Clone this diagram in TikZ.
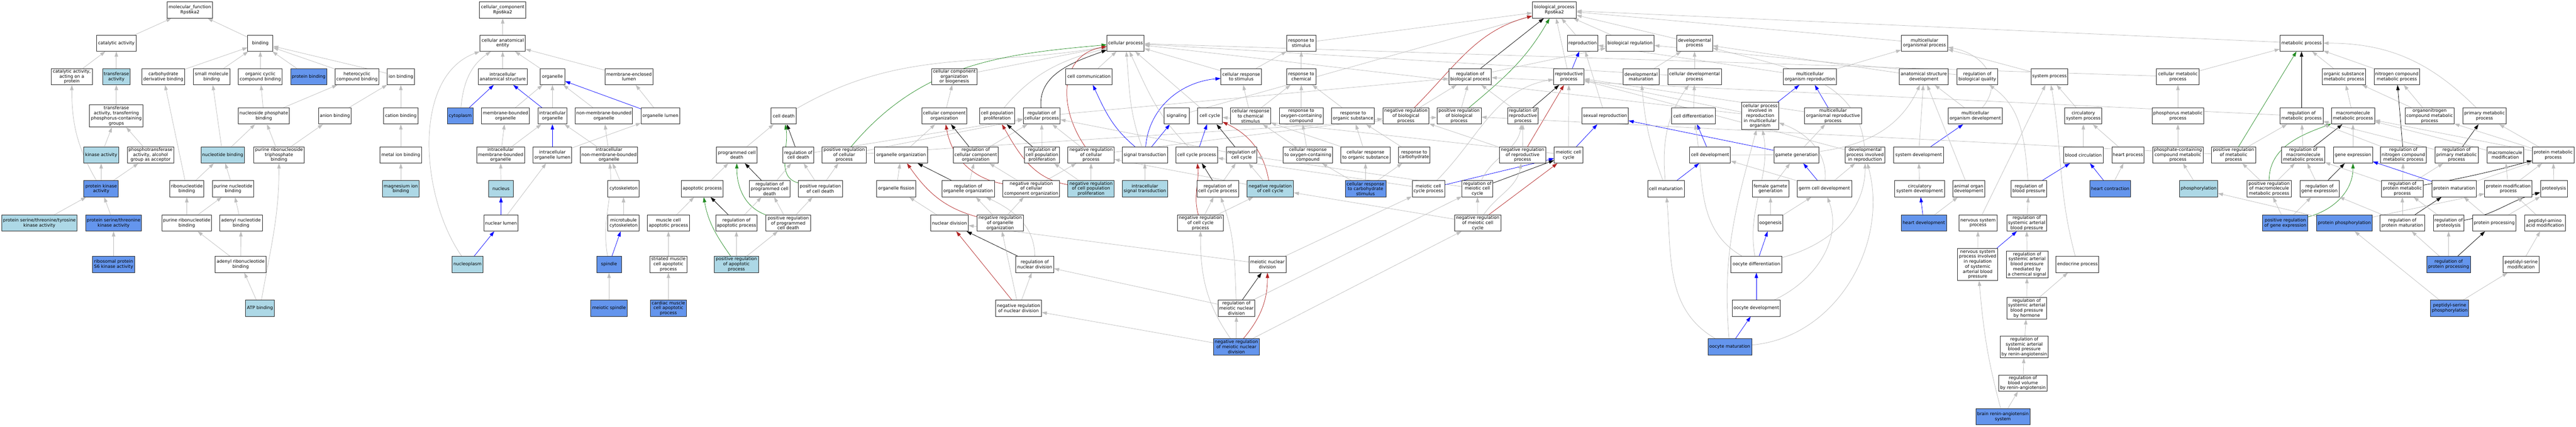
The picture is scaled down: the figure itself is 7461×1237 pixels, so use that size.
\documentclass[tikz,border=0pt]{standalone}
\usepackage{fontspec}
\setmainfont{DejaVu Sans}
\usetikzlibrary{arrows.meta}
\definecolor{lblue}{HTML}{ADD8E6}
\definecolor{cblue}{HTML}{6495ED}
\definecolor{egray}{HTML}{BEBEBE}
\definecolor{fgreen}{HTML}{228B22}
\definecolor{fred}{HTML}{B22222}
\pgfdeclarelayer{bgfill}
\pgfdeclarelayer{edges}
\pgfsetlayers{bgfill,edges,main}
\newcommand\gofont{\fontsize{12.8}{14.5}\selectfont}
\tikzset{
  gobox/.style={draw=black!85, line width=1.3pt, fill=white, inner sep=0pt, align=center, font=\gofont, minimum height=47pt},
  lb/.style={fill=lblue}, cb/.style={fill=cblue},
  edgebase/.style={line width=1.1pt, -{Triangle[length=15pt,width=10pt]}},
  gedge/.style={edgebase, draw=egray},
  bedge/.style={edgebase, draw=blue},
  redge/.style={edgebase, draw=fred},
  kedge/.style={edgebase, draw=black},
  nedge/.style={edgebase, draw=fgreen}
}
\newcommand\Gn[6]{\node[gobox,#5,minimum width=#4pt] (#1) at (#2,#3) {#6};}
\newcommand\Gnh[7]{\node[gobox,#6,minimum width=#4pt,minimum height=#5pt] (#1) at (#2,#3) {#7};}
\newcommand\eGray[2]{\draw[gedge] (#1) -- (#2);}
\newcommand\eBlue[2]{\draw[bedge] (#1) -- (#2);}
\newcommand\eRed[2]{\draw[redge] (#1) -- (#2);}
\newcommand\eBlack[2]{\draw[kedge] (#1) -- (#2);}
\newcommand\eGreen[2]{\draw[nedge] (#1) -- (#2);}
\newcommand\cGray[4]{\draw[gedge] (#1) to[out=#3,in=#4] (#2);}
\newcommand\cBlue[4]{\draw[bedge] (#1) to[out=#3,in=#4] (#2);}
\newcommand\cRed[4]{\draw[redge] (#1) to[out=#3,in=#4] (#2);}
\newcommand\cBlack[4]{\draw[kedge] (#1) to[out=#3,in=#4] (#2);}
\newcommand\cGreen[4]{\draw[nedge] (#1) to[out=#3,in=#4] (#2);}
\begin{document}
\begin{tikzpicture}[x=1pt,y=-1pt]
\begin{pgfonlayer}{bgfill}
\fill[white] (0,0) rectangle (7461,1237);
\end{pgfonlayer}
\useasboundingbox (0,0) rectangle (7461,1237);
% ---------------- molecular function ----------------
\Gn{mf}{550}{29}{131}{}{molecular\_function\\Rps6ka2}
\Gn{catact}{337}{125}{115}{}{catalytic activity}
\Gn{catprot}{208}{222}{119}{}{catalytic activity,\\acting on a\\protein}
\Gn{transf}{337}{222}{80}{lb}{transferase\\activity}
\Gn{carbo}{473}{222}{124}{}{carbohydrate\\derivative binding}
\Gn{smallmol}{613}{222}{107}{}{small molecule\\binding}
\Gnh{transphos}{337}{336}{155}{64}{}{transferase\\activity, transferring\\phosphorus-containing\\groups}
\Gn{kinase}{293}{449}{102}{lb}{kinase activity}
\Gn{phosalc}{436}{449}{134}{}{phosphotransferase\\activity, alcohol\\group as acceptor}
\Gn{nucbind}{645}{449}{126}{lb}{nucleotide binding}
\Gn{pkinase}{293}{547}{100}{cb}{protein kinase\\activity}
\Gn{ribonuc}{541}{547}{99}{}{ribonucleotide\\binding}
\Gn{purnuc}{675}{547}{119}{}{purine nucleotide\\binding}
\Gn{pstyk}{114}{646}{219}{lb}{protein serine/threonine/tyrosine\\kinase activity}
\Gn{pstk}{329}{646}{162}{cb}{protein serine/threonine\\kinase activity}
\Gn{purribo}{541}{646}{144}{}{purine ribonucleotide\\binding}
\Gn{adenyl}{698}{646}{123}{}{adenyl nucleotide\\binding}
\Gn{rps6}{329}{766}{123}{cb}{ribosomal protein\\S6 kinase activity}
\Gn{adenribo}{697}{766}{147}{}{adenyl ribonucleotide\\binding}
\Gn{atp}{753}{893}{84}{lb}{ATP binding}
\Gn{binding}{754}{125}{73}{}{binding}
\Gn{orgcyc}{754}{222}{127}{}{organic cyclic\\compound binding}
\Gn{protbind}{894}{222}{105}{cb}{protein binding}
\Gn{hetcyc}{1034}{222}{127}{}{heterocyclic\\compound binding}
\Gn{ionbind}{1161}{222}{78}{}{ion binding}
\Gn{nucphos}{764}{336}{148}{}{nucleoside phosphate\\binding}
\Gn{anion}{970}{336}{95}{}{anion binding}
\Gn{cation}{1161}{336}{99}{}{cation binding}
\Gn{purtri}{808}{449}{146}{}{purine ribonucleoside\\triphosphate\\binding}
\Gn{metal}{1161}{449}{120}{}{metal ion binding}
\Gn{mg}{1161}{547}{107}{lb}{magnesium ion\\binding}
% ---------------- cellular component ----------------
\Gn{cc}{1456}{29}{134}{}{cellular\_component\\Rps6ka2}
\Gn{cae}{1456}{125}{131}{}{cellular anatomical\\entity}
\Gn{ias}{1456}{222}{142}{}{intracellular\\anatomical structure}
\Gn{organelle}{1600}{222}{72}{}{organelle}
\Gn{mel}{1822}{222}{139}{}{membrane-enclosed\\lumen}
\Gn{cytoplasm}{1333}{336}{75}{cb}{cytoplasm}
\Gn{mbo}{1464}{336}{139}{}{membrane-bounded\\organelle}
\Gn{io}{1600}{336}{84}{}{intracellular\\organelle}
\Gn{nmbo}{1749}{336}{166}{}{non-membrane-bounded\\organelle}
\Gn{ol}{1913}{336}{112}{}{organelle lumen}
\Gn{imbo}{1450}{449}{139}{}{intracellular\\membrane-bounded\\organelle}
\Gn{iol}{1600}{449}{112}{}{intracellular\\organelle lumen}
\Gn{inmbo}{1764}{449}{166}{}{intracellular\\non-membrane-bounded\\organelle}
\Gn{nucleus}{1451}{547}{72}{lb}{nucleus}
\Gn{cytoskel}{1806}{547}{91}{}{cytoskeleton}
\Gn{nuclumen}{1451}{646}{99}{}{nuclear lumen}
\Gn{mtcyto}{1806}{646}{91}{}{microtubule\\cytoskeleton}
\Gn{nucleoplasm}{1354}{766}{89}{lb}{nucleoplasm}
\Gn{spindle}{1764}{766}{72}{cb}{spindle}
\Gn{meiospin}{1764}{893}{106}{cb}{meiotic spindle}
% ---------------- biological process ----------------
\Gn{celldeath}{2270}{336}{73}{}{cell death}
\Gn{pcd}{2134}{449}{118}{}{programmed cell\\death}
\Gn{regcd}{2312}{449}{89}{}{regulation of\\cell death}
\Gn{posregcp}{2445}{449}{128}{}{positive regulation\\of cellular\\process}
\Gn{apop}{2034}{547}{121}{}{apoptotic process}
\Gn{regpcd}{2229}{547}{117}{}{regulation of\\programmed cell\\death}
\Gn{posregcd}{2376}{547}{128}{}{positive regulation\\of cell death}
\Gn{mcap}{1936}{646}{122}{}{muscle cell\\apoptotic process}
\Gn{regap}{2133}{646}{120}{}{regulation of\\apoptotic process}
\Gn{posregpcd}{2283}{646}{129}{}{positive regulation\\of programmed\\cell death}
\Gn{smcap}{1936}{766}{106}{}{striated muscle\\cell apoptotic\\process}
\Gn{posregap}{2133}{766}{128}{lb}{positive regulation\\of apoptotic\\process}
\Gn{cmcap}{1936}{893}{104}{cb}{cardiac muscle\\cell apoptotic\\process}
\Gn{ccob}{2764}{222}{131}{}{cellular component\\organization\\or biogenesis}
\Gn{cco}{2735}{336}{131}{}{cellular component\\organization}
\Gn{cpp}{2888}{336}{102}{}{cell population\\proliferation}
\Gn{regcp}{3017}{336}{107}{}{regulation of\\cellular process}
\Gn{cellcomm}{3154}{222}{135}{}{cell communication}
\Gn{orgorg}{2610}{449}{153}{}{organelle organization}
\Gn{regcco}{2826}{449}{131}{}{regulation of\\cellular component\\organization}
\Gn{regcpp}{3018}{449}{101}{}{regulation of\\cell population\\proliferation}
\Gn{negregcp}{3160}{449}{134}{}{negative regulation\\of cellular\\process}
\Gn{orgfis}{2596}{547}{114}{}{organelle fission}
\Gn{regorg}{2804}{547}{152}{}{regulation of\\organelle organization}
\Gn{negregcco}{2987}{547}{164}{}{negative regulation\\of cellular\\component organization}
\Gn{negregcpp}{3160}{547}{134}{lb}{negative regulation\\of cell population\\proliferation}
\Gn{nucdiv}{2750}{646}{109}{}{nuclear division}
\Gn{negregorg}{2897}{646}{133}{}{negative regulation\\of organelle\\organization}
\Gn{regnucdiv}{2997}{766}{110}{}{regulation of\\nuclear division}
\Gn{negregnucdiv}{2950}{893}{133}{}{negative regulation\\of nuclear division}
\Gn{cellproc}{3260}{125}{108}{}{cellular process}
\Gn{signaling}{3408}{336}{72}{}{signaling}
\Gn{cellcycle}{3504}{336}{72}{}{cell cycle}
\Gn{crs}{3595}{222}{118}{}{cellular response\\to stimulus}
\Gn{crcs}{3622}{336}{117}{}{cellular response\\to chemical\\stimulus}
\Gn{rocc}{3769}{336}{126}{}{response to\\oxygen-containing\\compound}
\Gn{sigtrans}{3316}{449}{131}{}{signal transduction}
\Gn{ccp}{3466}{449}{121}{}{cell cycle process}
\Gn{regcc}{3596}{449}{88}{}{regulation of\\cell cycle}
\Gn{crocc}{3788}{449}{144}{}{cellular response\\to oxygen-containing\\compound}
\Gn{ist}{3316}{547}{131}{lb}{intracellular\\signal transduction}
\Gn{regccp}{3527}{547}{121}{}{regulation of\\cell cycle process}
\Gn{negregcc}{3679}{547}{135}{lb}{negative regulation\\of cell cycle}
\Gn{negregccp}{3477}{646}{133}{}{negative regulation\\of cell cycle\\process}
\Gn{mnd}{3671}{766}{107}{}{meiotic nuclear\\division}
\Gn{regmnd}{3581}{893}{107}{}{regulation of\\meiotic nuclear\\division}
\Gn{negregmnd}{3581}{1005}{133}{cb}{negative regulation\\of meiotic nuclear\\division}
\Gn{rts}{3769}{125}{84}{}{response to\\stimulus}
\Gn{rtc}{3769}{222}{84}{}{response to\\chemical}
\Gn{ros}{3919}{336}{124}{}{response to\\organic substance}
\Gn{negregbp}{4072}{336}{134}{}{negative regulation\\of biological\\process}
\Gn{posregbp}{4226}{336}{128}{}{positive regulation\\of biological\\process}
\Gn{regbp}{4258}{222}{123}{}{regulation of\\biological process}
\Gn{cros}{3955}{449}{142}{}{cellular response\\to organic substance}
\Gn{rcarb}{4096}{449}{92}{}{response to\\carbohydrate}
\Gn{crcarb}{3955}{547}{118}{cb}{cellular response\\to carbohydrate\\stimulus}
\Gn{mccp}{4137}{547}{94}{}{meiotic cell\\cycle process}
\Gn{regmcc}{4279}{547}{89}{}{regulation of\\meiotic cell\\cycle}
\Gn{negregmcc}{4280}{646}{134}{}{negative regulation\\of meiotic cell\\cycle}
\Gn{bp}{4502}{29}{127}{}{biological\_process\\Rps6ka2}
\Gn{repro}{4584}{125}{88}{}{reproduction}
\Gn{bioreg}{4721}{125}{139}{}{biological regulation}
\Gn{devproc}{4908}{125}{104}{}{developmental\\process}
\Gn{rp}{4544}{222}{88}{}{reproductive\\process}
\Gn{devmat}{4753}{222}{104}{}{developmental\\maturation}
\Gn{cdp}{4908}{222}{155}{}{cellular developmental\\process}
\Gn{regrp}{4411}{336}{89}{}{regulation of\\reproductive\\process}
\Gn{sexrep}{4649}{336}{134}{}{sexual reproduction}
\Gn{celldiff}{4905}{336}{126}{}{cell differentiation}
\Gn{negregrp}{4410}{449}{134}{}{negative regulation\\of reproductive\\process}
\Gn{mcc}{4543}{449}{83}{}{meiotic cell\\cycle}
\Gn{celldev}{4953}{449}{118}{}{cell development}
\Gn{cellmat}{4825}{547}{106}{}{cell maturation}
\Gn{oomat}{5010}{1005}{127}{cb}{oocyte maturation}
\Gn{mop}{5574}{125}{134}{}{multicellular\\organismal process}
\Gn{mor}{5242}{222}{153}{}{multicellular\\organism reproduction}
\Gn{asd}{5572}{222}{142}{}{anatomical structure\\development}
\Gnh{cpirmo}{5098}{336}{107}{79}{}{cellular process\\involved in\\reproduction\\in multicellular\\organism}
\Gn{morp}{5309}{336}{166}{}{multicellular\\organismal reproductive\\process}
\Gn{gamgen}{5203}{449}{131}{}{gamete generation}
\Gn{dpir}{5402}{449}{115}{}{developmental\\process involved\\in reproduction}
\Gn{sysdev}{5557}{449}{144}{}{system development}
\Gn{femgam}{5128}{547}{106}{}{female gamete\\generation}
\Gn{gcd}{5284}{547}{158}{}{germ cell development}
\Gn{csd}{5560}{547}{144}{}{circulatory\\system development}
\Gn{oogenesis}{5128}{646}{72}{}{oogenesis}
\Gn{heartdev}{5572}{646}{131}{cb}{heart development}
\Gn{oodiff}{5087}{766}{147}{}{oocyte differentiation}
\Gn{oodev}{5087}{893}{139}{}{oocyte development}
\Gn{regbq}{5727}{222}{118}{}{regulation of\\biological quality}
\Gn{sysproc}{5936}{222}{107}{}{system process}
\Gn{mod}{5721}{336}{158}{}{multicellular\\organism development}
\Gn{circsp}{6034}{336}{107}{}{circulatory\\system process}
\Gn{bloodcirc}{6034}{449}{115}{}{blood circulation}
\Gn{heartproc}{6163}{449}{93}{}{heart process}
\Gn{aod}{5702}{547}{92}{}{animal organ\\development}
\Gn{regbpress}{5876}{547}{102}{}{regulation of\\blood pressure}
\Gn{heartcon}{6112}{547}{118}{cb}{heart contraction}
\Gn{nsp}{5729}{646}{111}{}{nervous system\\process}
\Gn{regsabp}{5870}{646}{115}{}{regulation of\\systemic arterial\\blood pressure}
\Gnh{nspir}{5728}{766}{116}{93}{}{nervous system\\process involved\\in regulation\\of systemic\\arterial blood\\pressure}
\Gnh{regsabpchem}{5871}{766}{121}{78}{}{regulation of\\systemic arterial\\blood pressure\\mediated by\\a chemical signal}
\Gn{endo}{6017}{766}{124}{}{endocrine process}
\Gnh{regsabphorm}{5870}{893}{116}{63}{}{regulation of\\systemic arterial\\blood pressure\\by hormone}
\Gnh{regsabpra}{5863}{1005}{139}{63}{}{regulation of\\systemic arterial\\blood pressure\\by renin-angiotensin}
\Gn{regbvra}{5859}{1110}{139}{}{regulation of\\blood volume\\by renin-angiotensin}
\Gn{brain}{5801}{1207}{157}{cb}{brain renin-angiotensin\\system}
\Gn{metab}{6666}{125}{125}{}{metabolic process}
\Gn{cmp}{6308}{222}{124}{}{cellular metabolic\\process}
\Gn{osmp}{6789}{222}{126}{}{organic substance\\metabolic process}
\Gn{phmp}{6308}{336}{150}{}{phosphorus metabolic\\process}
\Gn{regmp}{6666}{336}{125}{}{regulation of\\metabolic process}
\Gn{mmp}{6815}{336}{125}{}{macromolecule\\metabolic process}
\Gn{pcmp}{6308}{449}{147}{}{phosphate-containing\\compound metabolic\\process}
\Gn{posregmp}{6469}{449}{128}{}{positive regulation\\of metabolic\\process}
\Gn{regmmp}{6671}{449}{125}{}{regulation of\\macromolecule\\metabolic process}
\Gn{geneexp}{6815}{449}{113}{}{gene expression}
\Gn{phos}{6368}{547}{110}{lb}{phosphorylation}
\Gn{posregmmp}{6572}{547}{128}{}{positive regulation\\of macromolecule\\metabolic process}
\Gn{reggeneexp}{6718}{547}{113}{}{regulation of\\gene expression}
\Gn{posreggeneexp}{6619}{646}{131}{cb}{positive regulation\\of gene expression}
\Gn{protphos}{6790}{646}{161}{cb}{protein phosphorylation}
\Gn{ncmp}{6942}{222}{131}{}{nitrogen compound\\metabolic process}
\Gn{oncmp}{7037}{336}{142}{}{organonitrogen\\compound metabolic\\process}
\Gn{pmp}{7196}{336}{126}{}{primary metabolic\\process}
\Gn{regncmp}{6961}{449}{132}{}{regulation of\\nitrogen compound\\metabolic process}
\Gn{regpmp}{7115}{449}{126}{}{regulation of\\primary metabolic\\process}
\Gn{macmod}{7256}{449}{106}{}{macromolecule\\modification}
\Gn{protmp}{7395}{449}{121}{}{protein metabolic\\process}
\Gn{regprotmp}{6958}{547}{121}{}{regulation of\\protein metabolic\\process}
\Gn{protmat}{7108}{547}{128}{}{protein maturation}
\Gn{pmodproc}{7265}{547}{137}{}{protein modification\\process}
\Gn{proteolysis}{7397}{547}{78}{}{proteolysis}
\Gn{regprotmat}{6958}{646}{129}{}{regulation of\\protein maturation}
\Gn{regproteo}{7092}{646}{88}{}{regulation of\\proteolysis}
\Gn{protproc}{7224}{646}{126}{}{protein processing}
\Gn{pama}{7371}{646}{118}{}{peptidyl-amino\\acid modification}
\Gn{regprotproc}{7092}{766}{126}{cb}{regulation of\\protein processing}
\Gn{psm}{7302}{766}{105}{}{peptidyl-serine\\modification}
\Gn{psp}{7095}{893}{110}{cb}{peptidyl-serine\\phosphorylation}

\begin{pgfonlayer}{edges}
% MF
\eGray{catact}{mf} \eGray{binding}{mf} \eGray{catprot}{catact} \eGray{transf}{catact}
\eGray{transphos}{transf} \eGray{kinase}{transphos} \eGray{phosalc}{transphos}
\eGray{pkinase}{kinase} \eGray{pkinase}{phosalc} \cGray{pkinase}{catprot}{120}{-90}
\eGray{pstyk}{pkinase} \eGray{pstk}{pkinase} \eGray{rps6}{pstk}
\eGray{carbo}{binding} \eGray{smallmol}{binding} \eGray{orgcyc}{binding} \eGray{protbind}{binding}
\eGray{hetcyc}{binding} \eGray{ionbind}{binding}
\eGray{ribonuc}{carbo} \eGray{ribonuc}{nucbind} \eGray{nucbind}{smallmol} \eGray{nucbind}{nucphos}
\eGray{nucphos}{orgcyc} \eGray{nucphos}{hetcyc} \eGray{purnuc}{nucbind}
\eGray{purribo}{ribonuc} \eGray{purribo}{purnuc} \eGray{adenyl}{purnuc}
\eGray{adenribo}{purribo} \eGray{adenribo}{adenyl} \eGray{atp}{adenribo} \cGray{atp}{purtri}{80}{-90}
\eGray{purtri}{nucphos} \eGray{purtri}{anion} \eGray{anion}{ionbind} \eGray{cation}{ionbind}
\eGray{metal}{cation} \eGray{mg}{metal}
% CC
\eGray{cae}{cc} \eGray{ias}{cae} \eGray{organelle}{cae} \eGray{mel}{cae}
\cGray{cytoplasm}{cae}{85}{-145}
\draw[gedge] (nucleoplasm) to[out=125,in=-160,looseness=0.9] (cae);
\eBlue{cytoplasm}{ias} \eBlue{io}{ias}
\eGray{mbo}{organelle} \eGray{io}{organelle} \eGray{nmbo}{organelle} \eBlue{ol}{organelle} \eGray{ol}{mel}
\eGray{imbo}{mbo} \eGray{imbo}{io} \eBlue{iol}{io} \eGray{iol}{ol} \eGray{inmbo}{io} \eGray{inmbo}{nmbo}
\eGray{nucleus}{imbo} \eBlue{nuclumen}{nucleus} \eGray{nuclumen}{iol} \eGray{cytoskel}{inmbo}
\eGray{mtcyto}{cytoskel} \cGray{spindle}{inmbo}{100}{-85} \eBlue{spindle}{mtcyto}
\eBlue{nucleoplasm}{nuclumen} \eGray{meiospin}{spindle}
% BP: death
\eGray{pcd}{celldeath} \eBlack{regcd}{celldeath} \cGreen{posregcd}{celldeath}{165}{-80}
\cGray{celldeath}{cellproc}{30}{190} \eGray{regcd}{regcp}
\cGreen{posregcp}{cellproc}{50}{185} \eGray{posregcp}{regcp} \eGray{posregcp}{posregbp}
\eGray{apop}{pcd} \eBlack{regpcd}{pcd} \cGreen{posregpcd}{pcd}{160}{-90}
\eGray{regpcd}{regcd} \eGray{posregcd}{regcd} \eGray{posregcd}{posregcp}
\eGray{mcap}{apop} \eBlack{regap}{apop} \cGreen{posregap}{apop}{125}{-80}
\eGray{regap}{regpcd} \eGray{posregpcd}{regpcd} \eGray{posregpcd}{posregcd}
\eGray{smcap}{mcap} \eGray{posregap}{regap} \eGray{posregap}{posregpcd} \eGray{cmcap}{smcap}
% BP: organization
\eGray{ccob}{cellproc} \eGray{cco}{ccob} \eGray{orgorg}{cco} \eBlack{regcco}{cco} \eGray{regcco}{regcp}
\cRed{negregcco}{cco}{170}{-80} \eGray{negregcco}{regcco} \eGray{negregcco}{negregcp}
\eBlack{regorg}{orgorg} \eGray{regorg}{regcco} \eGray{orgfis}{orgorg} \eGray{nucdiv}{orgfis}
\cRed{negregorg}{orgorg}{165}{-55} \eGray{negregorg}{regorg} \eGray{negregorg}{negregcco}
\eBlack{regnucdiv}{nucdiv} \cGray{regnucdiv}{regorg}{90}{-25}
\eRed{negregnucdiv}{nucdiv} \eGray{negregnucdiv}{regnucdiv} \eGray{negregnucdiv}{negregorg}
\cGray{cpp}{cellproc}{50}{195} \cBlack{regcp}{cellproc}{95}{200} \eGray{regcp}{regbp}
\eGray{regcpp}{regcp} \eBlack{regcpp}{cpp} \cRed{negregcpp}{cpp}{170}{-60}
\eGray{negregcpp}{regcpp} \eGray{negregcpp}{negregcp}
\draw[redge] (negregcp) to[out=125,in=190,looseness=1.2] (cellproc);
\eGray{negregcp}{regcp} \eGray{negregcp}{negregbp}
% BP: signalling, cycle
\eGray{cellcomm}{cellproc} \cBlue{sigtrans}{cellcomm}{140}{-65} \cGray{sigtrans}{cellproc}{110}{-85}
\eBlue{sigtrans}{signaling} \cBlue{sigtrans}{crs}{85}{185} \eGray{signaling}{bp} \eGray{ist}{sigtrans}
\eGray{cellcycle}{cellproc} \eBlue{ccp}{cellcycle} \cGray{ccp}{cellproc}{135}{-65}
\eBlack{regcc}{cellcycle} \eGray{regcc}{regcp} \cRed{negregcc}{cellcycle}{100}{-25}
\eGray{negregcc}{regcc} \eGray{negregcc}{negregcp}
\eBlack{regccp}{ccp} \eGray{regccp}{regcc} \cRed{negregccp}{ccp}{105}{-85}
\eGray{negregccp}{regccp} \eGray{negregccp}{negregcc}
\eGray{crs}{cellproc} \eGray{crs}{rts} \eGray{crcs}{crs} \eGray{crcs}{rtc}
\eGray{mnd}{nucdiv} \eGray{mnd}{mccp} \eBlack{regmnd}{mnd} \eGray{regmnd}{regnucdiv}
\cGray{regmnd}{regccp}{92}{-70} \eGray{regmnd}{regmcc}
\cRed{negregmnd}{mnd}{50}{-90} \eGray{negregmnd}{regmnd} \cGray{negregmnd}{negregccp}{125}{-90}
\eGray{negregmnd}{negregnucdiv} \eGray{negregmnd}{negregmcc}
% BP: response
\eGray{rts}{bp} \eGray{rtc}{rts} \eGray{rocc}{rtc} \eGray{ros}{rtc} \eGray{cros}{ros} \eGray{cros}{crcs}
\eGray{crocc}{rocc} \eGray{crocc}{crcs} \eGray{rcarb}{ros} \eGray{crcarb}{cros} \eGray{crcarb}{rcarb}
\eGray{crcarb}{crocc}
% BP: regulation
\eBlack{regbp}{bp} \eGray{regbp}{bioreg} \eGray{negregbp}{regbp} \cRed{negregbp}{bp}{45}{195}
\eGray{posregbp}{regbp} \cGreen{posregbp}{bp}{40}{-120}
% BP: meiosis
\eBlue{mccp}{mcc} \eGray{mccp}{ccp} \cGray{mccp}{rp}{45}{190}
\eBlack{regmcc}{mcc} \eGray{regmcc}{regcc} \cGray{regmcc}{regrp}{65}{-100}
\eGray{negregmcc}{regmcc} \eGray{negregmcc}{negregcc} \eRed{negregmcc}{mcc}
\cGray{negregmcc}{negregrp}{55}{-100}
% BP: reproduction, development
\eGray{repro}{bp} \eGray{bioreg}{bp} \eGray{devproc}{bp} \eBlue{rp}{repro} \eGray{rp}{bp}
\eGray{sexrep}{repro} \eBlack{regrp}{rp} \eGray{regrp}{regbp} \eRed{negregrp}{rp}
\eGray{negregrp}{regrp} \eGray{negregrp}{negregbp}
\eGray{mcc}{rp} \eBlue{mcc}{sexrep} \eGray{mcc}{cellcycle}
\eGray{devmat}{devproc} \eGray{cdp}{devproc} \eGray{cdp}{cellproc} \eGray{celldiff}{cdp}
\eBlue{celldev}{celldiff} \eBlue{cellmat}{celldev} \cGray{cellmat}{devmat}{110}{-85}
\cGray{cellmat}{cdp}{95}{-125} \cGray{oomat}{cellmat}{150}{-85}
\eGray{mop}{bp} \eGray{mor}{mop} \eGray{mor}{repro} \eGray{asd}{devproc}
\eBlue{cpirmo}{mor} \eGray{cpirmo}{rp} \eGray{cpirmo}{cellproc}
\eBlue{morp}{mor} \eGray{morp}{rp} \eGray{gamgen}{morp} \eBlue{gamgen}{sexrep}
\cGray{dpir}{devproc}{95}{-15} \eGray{dpir}{rp}
\eGray{sysdev}{asd} \eBlue{sysdev}{mod} \eGray{csd}{sysdev} \eBlue{heartdev}{csd} \eGray{heartdev}{aod}
\eGray{femgam}{gamgen} \eBlue{gcd}{gamgen} \eGray{gcd}{dpir} \eGray{gcd}{celldev} \cGray{gcd}{cpirmo}{85}{-20}
\eGray{oogenesis}{femgam} \eGray{oogenesis}{gcd} \eBlue{oodiff}{oogenesis}
\cGray{oodiff}{celldiff}{150}{-80} \cGray{oodiff}{dpir}{15}{-90} \cGray{oodiff}{cpirmo}{100}{-80}
\eBlue{oodev}{oodiff} \cGray{oodev}{gcd}{25}{-70}
\eBlue{oomat}{oodev} \cGray{oomat}{cpirmo}{95}{-105} \cGray{oomat}{dpir}{5}{-75}
\cGray{celldev}{asd}{0}{-115}
% BP: system
\eGray{regbq}{bioreg} \eGray{sysproc}{mop} \eGray{mod}{asd}
\draw[gedge] (mod) to[out=50,in=-10,looseness=1.3] (mop);
\eGray{aod}{asd} \eGray{circsp}{sysproc} \eGray{bloodcirc}{circsp} \eGray{heartproc}{circsp}
\eBlue{heartcon}{bloodcirc} \eGray{heartcon}{heartproc} \eBlue{regbpress}{bloodcirc}
\cGray{regbpress}{regbq}{95}{-35} \eGray{nsp}{sysproc} \eGray{regsabp}{regbpress}
\eGray{nspir}{nsp} \eBlue{nspir}{regsabp} \eGray{regsabpchem}{regsabp} \cGray{endo}{sysproc}{105}{-80}
\eGray{regsabphorm}{regsabpchem} \eGray{regsabphorm}{endo} \eGray{regsabpra}{regsabphorm}
\eGray{regbvra}{regsabpra} \eGray{brain}{regbvra} \cGray{brain}{nspir}{105}{-85}
% BP: metabolism
\eGray{metab}{bp} \eGray{cmp}{metab} \eGray{cmp}{cellproc} \eGray{osmp}{metab} \eGray{phmp}{cmp}
\eBlack{regmp}{metab} \eGray{regmp}{regbp} \eGray{mmp}{osmp} \eGray{pcmp}{phmp}
\eGreen{posregmp}{metab} \eGray{posregmp}{regmp} \eGray{posregmp}{posregbp}
\eGray{regmmp}{regmp} \eBlack{regmmp}{mmp} \eGray{geneexp}{mmp} \eGray{phos}{pcmp}
\eGray{posregmmp}{posregmp} \eGray{posregmmp}{regmmp} \cGreen{posregmmp}{mmp}{90}{-160}
\eGray{reggeneexp}{regmmp} \eBlack{reggeneexp}{geneexp}
\eGray{posreggeneexp}{posregmmp} \eGray{posreggeneexp}{reggeneexp} \cGreen{posreggeneexp}{geneexp}{15}{-90}
\eGray{protphos}{phos} \eGray{protphos}{pmodproc}
\eGray{ncmp}{metab} \eGray{oncmp}{ncmp} \eGray{oncmp}{osmp} \cGray{pmp}{metab}{135}{0}
\eBlack{regncmp}{ncmp} \eGray{regncmp}{regmp} \eBlack{regpmp}{pmp} \eGray{regpmp}{regmp}
\eGray{macmod}{mmp} \eGray{protmp}{oncmp} \eGray{protmp}{pmp} \eGray{protmp}{mmp}
\eGray{regprotmp}{regncmp} \eGray{regprotmp}{regpmp} \eGray{regprotmp}{regmmp}
\cBlack{regprotmp}{protmp}{10}{195}
\eGray{protmat}{protmp} \eBlue{protmat}{geneexp} \eGray{pmodproc}{macmod} \eGray{pmodproc}{protmp}
\eGray{proteolysis}{protmp}
\eGray{regprotmat}{regprotmp} \eBlack{regprotmat}{protmat} \eGray{regprotmat}{reggeneexp}
\eGray{regproteo}{regprotmp} \cBlack{regproteo}{proteolysis}{10}{195}
\eGray{protproc}{protmat} \eGray{protproc}{proteolysis} \eGray{pama}{pmodproc}
\eGray{regprotproc}{regprotmat} \eGray{regprotproc}{regproteo} \eBlack{regprotproc}{protproc}
\eGray{psm}{pama} \eGray{psp}{psm} \eGray{psp}{protphos}
\end{pgfonlayer}
\end{tikzpicture}
\end{document}
